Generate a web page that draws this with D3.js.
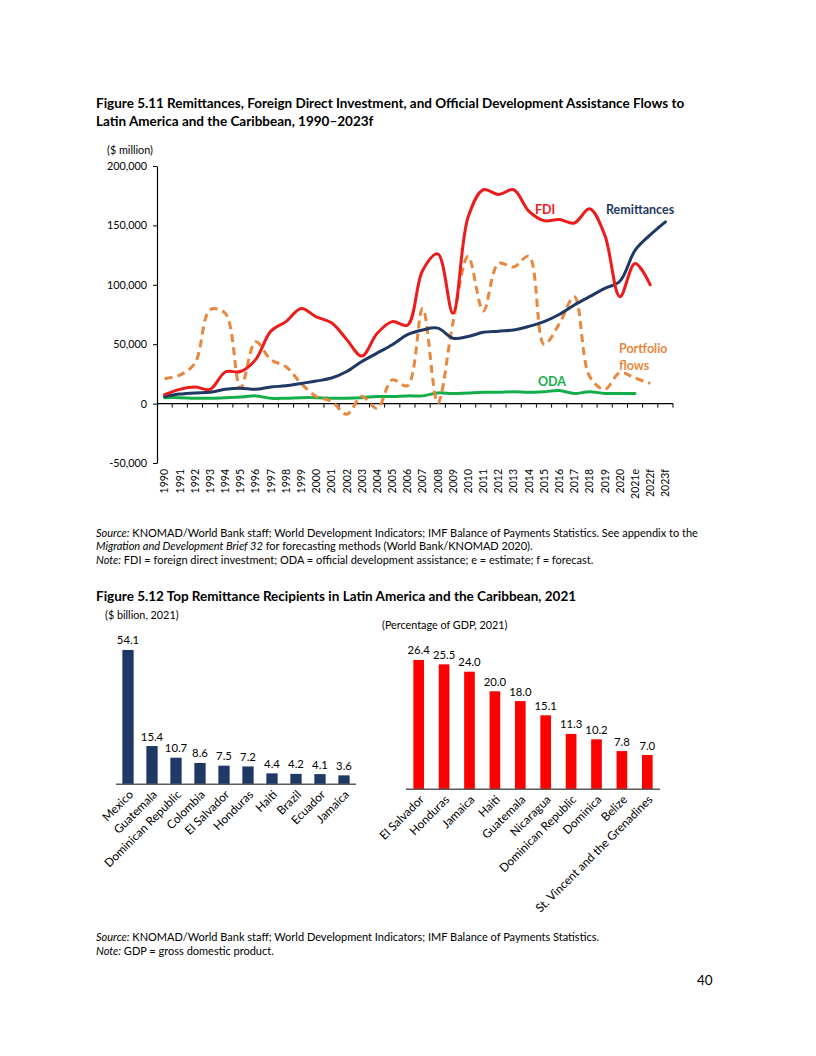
<!DOCTYPE html>
<html><head><meta charset="utf-8">
<script src="https://cdn.jsdelivr.net/npm/d3@7"></script>
<style>body{margin:0;background:#fff}svg{display:block}text{font-family:Lato,"Open Sans",sans-serif;fill:#000}</style>
</head><body><svg id="c" width="816" height="1056"></svg>
<script>
// ---------- Figure 5.11 data (values in $ billion; plotted in $ million) ----------
const years = ["1990","1991","1992","1993","1994","1995","1996","1997","1998","1999","2000","2001","2002","2003","2004","2005","2006","2007","2008","2009","2010","2011","2012","2013","2014","2015","2016","2017","2018","2019","2020","2021e","2022f","2023f"];
const remittances = [6,8,9,9.5,12,13,12,14,15,17,19,21.5,27,35.5,42.5,49.5,58,62,63.5,55,56.5,60,61,62,65,69,75,83,90,97,103,129,142,153];
const fdi = [7.6,12,14,12,26.6,27,37,61,69,80,73,68,54,40,59,69,66,112,126,76,157,180,176,180,162,154,155,152,164,142,90,118,100];
const portfolio = [21,24,34,79,76,13,52,37,31,17,6,2,-9,6,-4,20,15,80,0.5,68,124,78,118,115,124,50,67,90,23,12,26,21.5,17];
const oda = [5,5,4.5,4.5,5,5.5,6.5,4.5,4.5,5,5,4.5,4.5,5,6,6,6.5,6.5,9,8.5,9,9.5,9.5,10,9.5,10,11,8.5,10,8.5,8.5,8.5];
const yTicks = [-50000,0,50000,100000,150000,200000];

// ---------- Figure 5.12 data ----------
const countriesA = ["Mexico","Guatemala","Dominican Republic","Colombia","El Salvador","Honduras","Haiti","Brazil","Ecuador","Jamaica"];
const valuesA = [54.1,15.4,10.7,8.6,7.5,7.2,4.4,4.2,4.1,3.6];
const countriesB = ["El Salvador","Honduras","Jamaica","Haiti","Guatemala","Nicaragua","Dominican Republic","Dominica","Belize","St. Vincent and the Grenadines"];
const valuesB = [26.4,25.5,24.0,20.0,18.0,15.1,11.3,10.2,7.8,7.0];

const svg = d3.select("#c");
const NAVY="#1F3864", RED="#EE1B1B", ORANGE="#E8873E", GREEN="#13AE4B";
const BODY=11, TITLE=13.5;

// ---------- texts ----------
function addText(x,y,parts,size,weight,anchor){
  const t=svg.append("text").attr("x",x).attr("y",y).attr("font-size",size).attr("font-weight",weight||"normal").attr("text-anchor",anchor||"start");
  parts.forEach(p=>{ if(typeof p==="string") t.append("tspan").text(p); else t.append("tspan").attr("font-style",p.i?"italic":null).attr("fill",p.c||null).text(p.t); });
  return t;
}
addText(96,108,["Figure 5.11 Remittances, Foreign Direct Investment, and Official Development Assistance Flows to"],TITLE,"bold");
addText(96,126,["Latin America and the Caribbean, 1990–2023f"],TITLE,"bold");
addText(107,154,["($ million)"],10.8);
addText(96,537,[{t:"Source:",i:1}," KNOMAD/World Bank staff; World Development Indicators; IMF Balance of Payments Statistics. See appendix to the"],BODY);
addText(96,550,[{t:"Migration and Development Brief 32",i:1}," for forecasting methods (World Bank/KNOMAD 2020)."],BODY);
addText(96,564,[{t:"Note:",i:1}," FDI = foreign direct investment; ODA = official development assistance; e = estimate; f = forecast."],BODY);
addText(96,601,["Figure 5.12 Top Remittance Recipients in Latin America and the Caribbean, 2021"],TITLE,"bold");
addText(105,619,["($ billion, 2021)"],10.8);
addText(382,629,["(Percentage of GDP, 2021)"],10.8);
addText(96,941,[{t:"Source:",i:1}," KNOMAD/World Bank staff; World Development Indicators; IMF Balance of Payments Statistics."],BODY);
addText(96,955,[{t:"Note:",i:1}," GDP = gross domestic product."],BODY);
addText(697,985,["40"],13.5);

// ---------- line chart ----------
const x = d3.scaleBand().domain(years).range([157,673]).padding(0);
const y = d3.scaleLinear().domain([-50000,200000]).range([463,166]);
const cx = d => x(d)+x.bandwidth()/2;

const fmt = d3.format(",");
const gy = svg.append("g").attr("transform","translate(157,0)")
  .call(d3.axisLeft(y).tickValues(yTicks).tickFormat(d=>fmt(d).replace("−","-")).tickSize(4).tickSizeOuter(0));
gy.select(".domain").attr("stroke","#000").attr("stroke-width",1.2);
gy.selectAll(".tick line").attr("stroke","#000");
gy.selectAll("text").attr("font-size",10.8).attr("font-family","Lato,sans-serif").attr("x",-10).attr("fill","#000");

// x axis at zero
const gx = svg.append("g").attr("transform",`translate(0,${y(0)})`);
gx.append("line").attr("x1",x.range()[0]).attr("x2",x.range()[1]).attr("stroke","#000").attr("stroke-width",1.2);
const bounds = years.map(d=>x(d)).concat([x.range()[1]]);
gx.selectAll("line.tk").data(bounds.slice(1)).enter().append("line").attr("class","tk")
  .attr("x1",d=>d).attr("x2",d=>d).attr("y1",0).attr("y2",4).attr("stroke","#000");
svg.append("g").selectAll("text").data(years).enter().append("text")
  .attr("transform",d=>`translate(${cx(d)+3.8},469) rotate(-90)`)
  .attr("text-anchor","end").attr("font-size",10.5).text(d=>d);

const line = d3.line().x((d,i)=>cx(years[i])).y(d=>y(d*1000)).curve(d3.curveCatmullRom.alpha(0.5));
function drawSeries(data,color,dash){
  svg.append("path").datum(data).attr("d",line).attr("fill","none").attr("stroke",color)
   .attr("stroke-width",3).attr("stroke-linejoin","round").attr("stroke-linecap",dash?"butt":"round")
   .attr("stroke-dasharray",dash||null);
}
drawSeries(oda,GREEN);
drawSeries(portfolio,ORANGE,"8,5");
drawSeries(remittances,NAVY);
drawSeries(fdi,RED);

addText(535,214,[{t:"FDI",c:RED}],12.5,"bold");
addText(606,214,[{t:"Remittances",c:NAVY}],12.5,"bold");
addText(619,353,[{t:"Portfolio",c:ORANGE}],12.5,"bold");
addText(619,370,[{t:"flows",c:ORANGE}],12.5,"bold");
addText(538,386,[{t:"ODA",c:GREEN}],12.5,"bold");

// ---------- bar charts ----------
function barChart(cats,vals,range,base,yDomainMax,yHeight,barFrac,color){
  const xb = d3.scaleBand().domain(cats).range(range).padding(0);
  const yb = d3.scaleLinear().domain([0,yDomainMax]).range([base,base-yHeight]);
  const w = xb.bandwidth()*barFrac;
  const g = svg.append("g");
  g.selectAll("rect").data(vals).enter().append("rect")
    .attr("x",(d,i)=>xb(cats[i])+(xb.bandwidth()-w)/2).attr("width",w)
    .attr("y",d=>yb(d)).attr("height",d=>base-yb(d)).attr("fill",color);
  g.append("line").attr("x1",range[0]).attr("x2",range[1]).attr("y1",base).attr("y2",base)
    .attr("stroke","#595959").attr("stroke-width",1.5);
  g.selectAll("text.v").data(vals).enter().append("text").attr("class","v")
    .attr("x",(d,i)=>xb(cats[i])+xb.bandwidth()/2).attr("y",d=>yb(d)-5.5)
    .attr("text-anchor","middle").attr("font-size",11.3).text(d=>d.toFixed(1));
  g.selectAll("text.c").data(cats).enter().append("text").attr("class","c")
    .attr("transform",d=>`translate(${xb(d)+xb.bandwidth()/2+6},${base+11}) rotate(-45)`)
    .attr("text-anchor","end").attr("font-size",11.8).text(d=>d);
}
barChart(countriesA,valuesA,[116,356],784.3,60,149,0.47,NAVY);
barChart(countriesB,valuesB,[406,660],789.3,30,147,0.42,"#FF0000");
</script></body></html>
